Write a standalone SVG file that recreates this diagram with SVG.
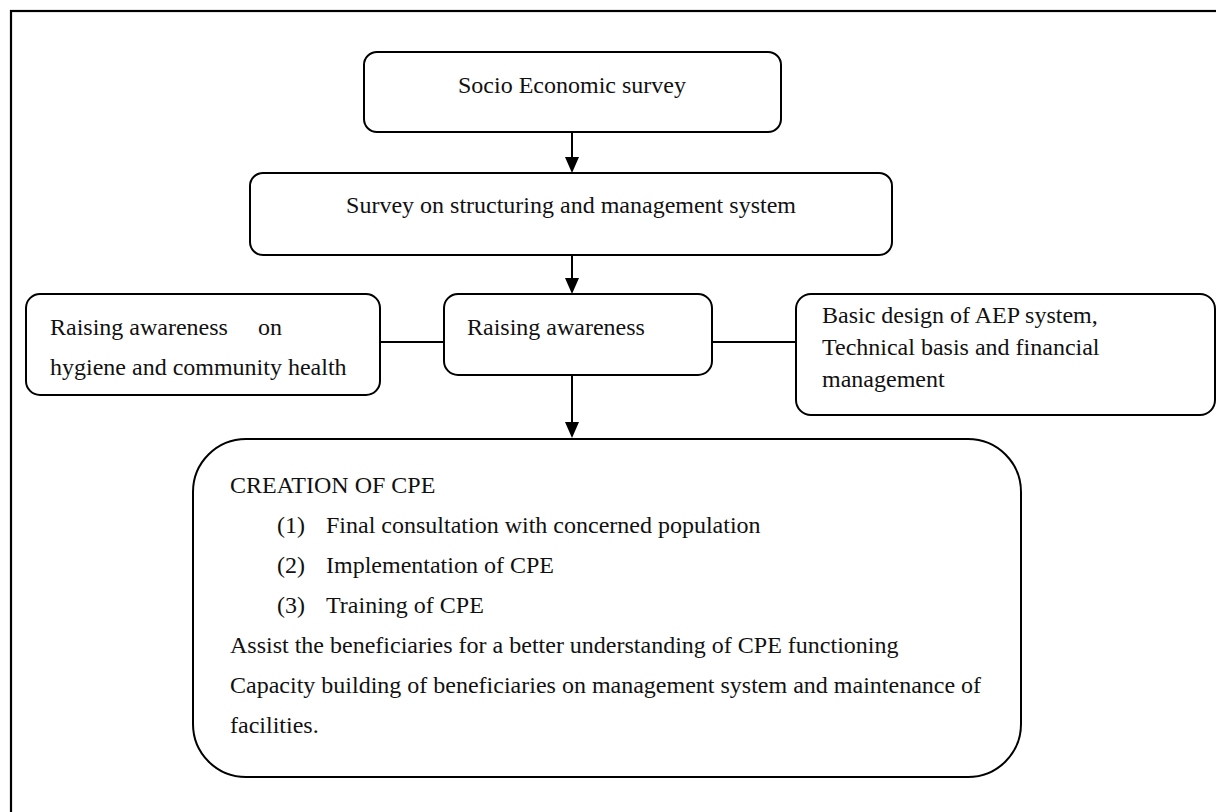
<svg xmlns="http://www.w3.org/2000/svg" width="1216" height="812" viewBox="0 0 1216 812">
<defs>
<style>
.box{fill:#fff;stroke:#000;stroke-width:2}
.t{font-family:"Liberation Serif","Times New Roman",serif;font-size:24px;fill:#111}
.c{stroke:#000;stroke-width:2;fill:none}
</style>
<marker id="ah" markerWidth="14" markerHeight="16" refX="7" refY="16" orient="auto-start-reverse" markerUnits="userSpaceOnUse" viewBox="0 0 14 16">
<path d="M0,0 L14,0 L7,16 Z" fill="#000"/>
</marker>
</defs>
<rect x="0" y="0" width="1216" height="812" fill="#fff"/>
<rect x="11" y="11" width="1300" height="900" fill="none" stroke="#000" stroke-width="2.2"/>
<g id="connectors">
<line class="c" x1="572" y1="132" x2="572" y2="157"/>
<path d="M565,157 L579,157 L572,173 Z" fill="#000"/>
<line class="c" x1="572" y1="255" x2="572" y2="278"/>
<path d="M565,278 L579,278 L572,294 Z" fill="#000"/>
<line class="c" x1="572" y1="375" x2="572" y2="423"/>
<path d="M565,422 L579,422 L572,438 Z" fill="#000"/>
<line class="c" x1="380" y1="342" x2="444" y2="342"/>
<line class="c" x1="712" y1="342" x2="796" y2="342"/>
</g>
<g id="socio">
<rect class="box" x="364" y="52" width="417" height="80" rx="13"/>
<text class="t" x="572" y="93" text-anchor="middle">Socio Economic survey</text>
</g>
<g id="survey">
<rect class="box" x="250" y="173" width="642" height="82" rx="13"/>
<text class="t" x="571" y="213" text-anchor="middle">Survey on structuring and management system</text>
</g>
<g id="raising">
<rect class="box" x="444" y="294" width="268" height="81" rx="14"/>
<text class="t" x="467" y="335">Raising awareness</text>
</g>
<g id="hygiene">
<rect class="box" x="26" y="294" width="354" height="101" rx="14"/>
<text class="t" x="50" y="335" xml:space="preserve">Raising awareness     on</text>
<text class="t" x="50" y="375">hygiene and community health</text>
</g>
<g id="basic">
<rect class="box" x="796" y="294" width="419" height="121" rx="15"/>
<text class="t" x="822" y="323">Basic design of AEP system,</text>
<text class="t" x="822" y="355">Technical basis and financial</text>
<text class="t" x="822" y="387">management</text>
</g>
<g id="cpe">
<rect class="box" x="193" y="439" width="828" height="338" rx="53"/>
<text class="t" x="230" y="493">CREATION OF CPE</text>
<text class="t" x="277" y="533">(1)</text>
<text class="t" x="326" y="533">Final consultation with concerned population</text>
<text class="t" x="277" y="573">(2)</text>
<text class="t" x="326" y="573">Implementation of CPE</text>
<text class="t" x="277" y="613">(3)</text>
<text class="t" x="326" y="613">Training of CPE</text>
<text class="t" x="230" y="653">Assist the beneficiaries for a better understanding of CPE functioning</text>
<text class="t" x="230" y="693">Capacity building of beneficiaries on management system and maintenance of</text>
<text class="t" x="230" y="733">facilities.</text>
</g>
</svg>
